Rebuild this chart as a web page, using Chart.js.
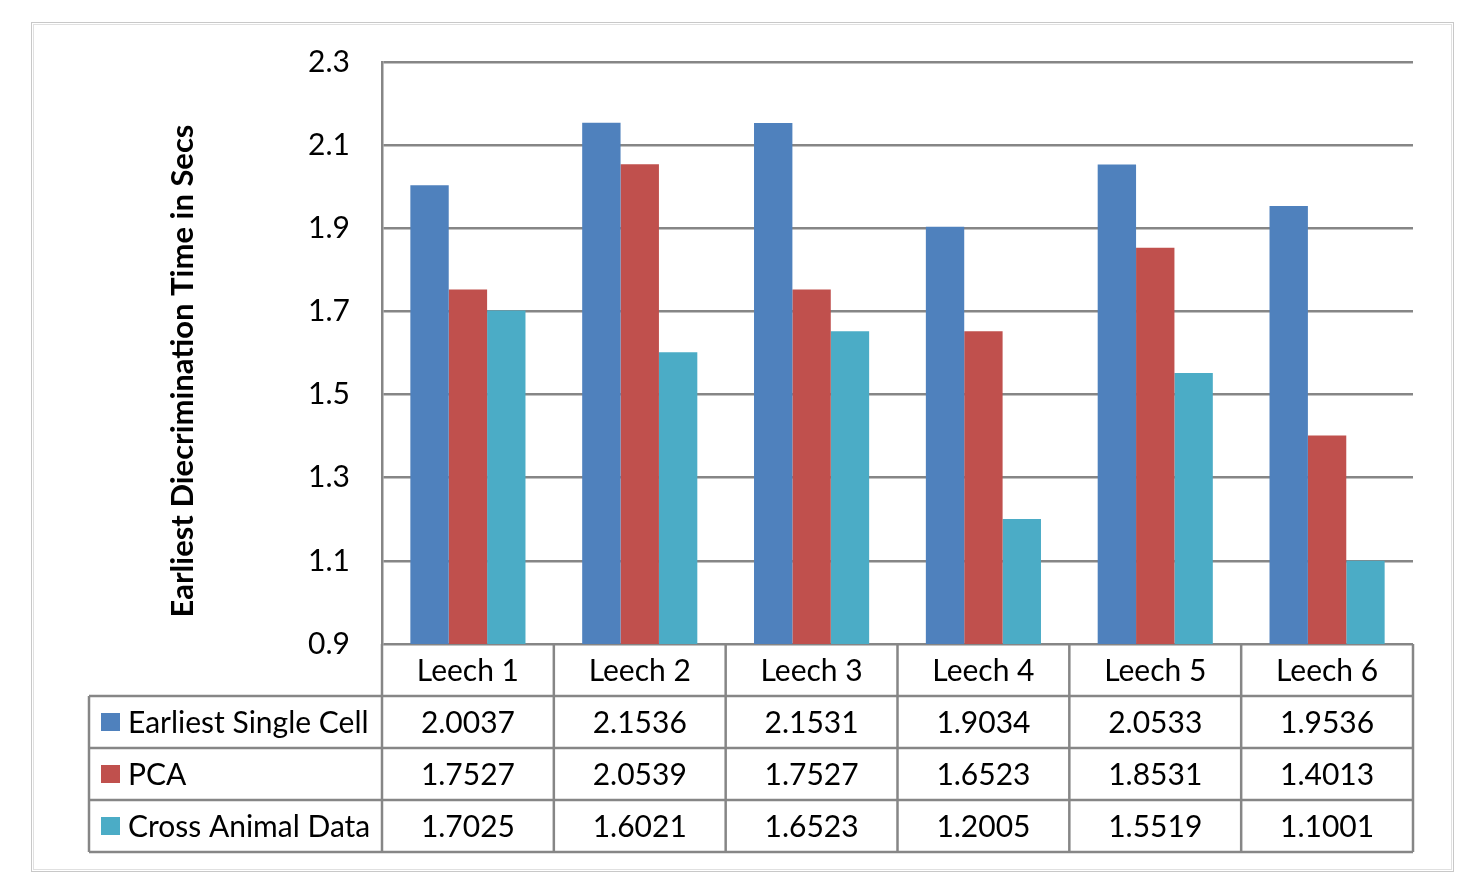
<!DOCTYPE html>
<html>
<head>
<meta charset="utf-8">
<script src="https://cdn.jsdelivr.net/npm/chart.js@4.4.0/dist/chart.umd.min.js"></script>
<style>
    body { margin: 0; background: #fff; }
    #wrap { width: 1465px; height: 885px; }
</style>
</head>
<body>
<div id="wrap"><canvas id="leechChart" width="1465" height="885"></canvas></div>
<script>
const categories = ['Leech 1', 'Leech 2', 'Leech 3', 'Leech 4', 'Leech 5', 'Leech 6'];
const seriesNames = ['Earliest Single Cell', 'PCA', 'Cross Animal Data'];
const singleCell = [2.0037, 2.1536, 2.1531, 1.9034, 2.0533, 1.9536];
const pca = [1.7527, 2.0539, 1.7527, 1.6523, 1.8531, 1.4013];
const crossAnimal = [1.7025, 1.6021, 1.6523, 1.2005, 1.5519, 1.1001];
const yTicks = [0.9, 1.1, 1.3, 1.5, 1.7, 1.9, 2.1, 2.3];
const yTitle = 'Earliest Diecrimination Time in Secs';

const colors = ['#4F81BD', '#C0504D', '#4BACC6'];
const lineGray = '#868686';
const fontName = 'Lato, Carlito, "Open Sans", sans-serif';

// Cuadro exterior, titulo del eje y tabla de datos
const tablePlugin = {
    id: 'dataTable',
    beforeDraw(chart) {
        const ctx = chart.ctx;
        ctx.save();
        ctx.strokeStyle = '#c8c8c8';
        ctx.lineWidth = 1;
        ctx.strokeRect(31.5, 22.5, 1422, 849);
        ctx.strokeStyle = '#e0e0e0';
        ctx.strokeRect(33.5, 24.5, 1418, 845);
        ctx.restore();
    },
    afterDraw(chart) {
        const ctx = chart.ctx;
        const area = chart.chartArea;
        const x = chart.scales.x;
        const rowH = 52;
        const tableLeft = 89;
        const colW = (area.right - area.left) / categories.length;
        const top = area.bottom;
        const rows = [singleCell, pca, crossAnimal];
        const bottom = top + rowH * (rows.length + 1);

        ctx.save();
        // titulo del eje
        ctx.translate(183, (area.top + area.bottom) / 2 + 18);
        ctx.rotate(-Math.PI / 2);
        ctx.font = 'bold 31px ' + fontName;
        ctx.fillStyle = '#000';
        ctx.textAlign = 'center';
        ctx.textBaseline = 'middle';
        ctx.fillText(yTitle, 0, 0);
        ctx.restore();

        ctx.save();
        ctx.strokeStyle = lineGray;
        ctx.lineWidth = 2.5;
        ctx.beginPath();
        for (let i = 0; i <= categories.length; i++) {
            const cx = area.left + i * colW;
            ctx.moveTo(cx, top);
            ctx.lineTo(cx, bottom);
        }
        for (let r = 1; r <= rows.length + 1; r++) {
            ctx.moveTo(tableLeft, top + r * rowH);
            ctx.lineTo(area.right, top + r * rowH);
        }
        ctx.moveTo(tableLeft, top + rowH);
        ctx.lineTo(tableLeft, bottom);
        ctx.stroke();

        ctx.fillStyle = '#000';
        ctx.font = '30px ' + fontName;
        ctx.textBaseline = 'middle';
        ctx.textAlign = 'center';
        categories.forEach((c, i) => {
            ctx.fillText(c, x.getPixelForValue(i), top + rowH / 2 + 1);
        });
        rows.forEach((vals, r) => {
            const cy = top + (r + 1) * rowH + rowH / 2 + 1;
            vals.forEach((v, i) => {
                ctx.fillText(v.toFixed(4), x.getPixelForValue(i), cy);
            });
        });
        ctx.textAlign = 'left';
        seriesNames.forEach((name, r) => {
            const cy = top + (r + 1) * rowH + rowH / 2;
            ctx.fillStyle = colors[r];
            ctx.fillRect(101, cy - 9, 19, 18);
            ctx.fillStyle = '#000';
            ctx.fillText(name, 128, cy + 1);
        });
        ctx.restore();
    }
};

new Chart(document.getElementById('leechChart').getContext('2d'), {
    type: 'bar',
    data: {
        labels: categories,
        datasets: [
            { label: seriesNames[0], data: singleCell, backgroundColor: colors[0] },
            { label: seriesNames[1], data: pca, backgroundColor: colors[1] },
            { label: seriesNames[2], data: crossAnimal, backgroundColor: colors[2] }
        ]
    },
    options: {
        responsive: false,
        animation: false,
        devicePixelRatio: 1,
        datasets: {
            bar: { categoryPercentage: 0.67, barPercentage: 1.0 }
        },
        layout: {
            padding: { left: 32, top: 62, right: 52, bottom: 241 }
        },
        plugins: {
            legend: { display: false },
            tooltip: { enabled: false }
        },
        scales: {
            x: { display: false },
            y: {
                min: yTicks[0],
                max: yTicks[yTicks.length - 1],
                afterFit(scale) { scale.width = 382 - 32; },
                afterBuildTicks(scale) {
                    scale.ticks = yTicks.map(v => ({ value: v }));
                },
                ticks: {
                    padding: 32,
                    color: '#000',
                    font: { family: fontName, size: 30 },
                    callback: v => Number(v).toFixed(1)
                },
                grid: { color: lineGray, lineWidth: 2.5, drawTicks: false },
                border: { color: lineGray, width: 2.5 }
            }
        }
    },
    plugins: [tablePlugin]
});
</script>
</body>
</html>
